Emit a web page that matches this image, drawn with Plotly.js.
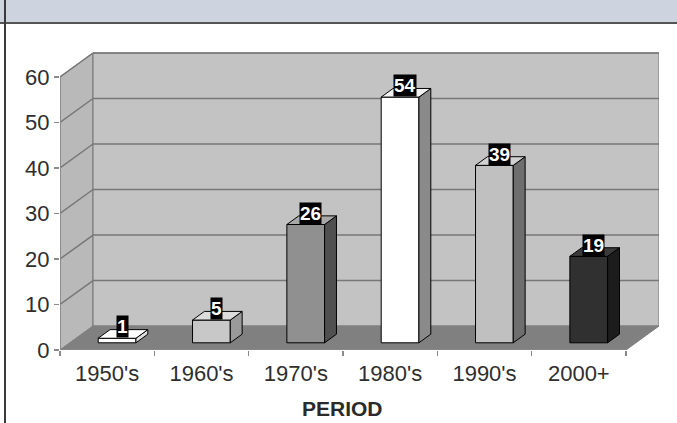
<!DOCTYPE html>
<html>
<head>
<meta charset="utf-8">
<script src="https://cdn.plot.ly/plotly-3.0.1.min.js"></script>
<style>
  html, body { margin: 0; padding: 0; background: #ffffff; overflow: hidden; }
  #wrap { position: relative; width: 677px; height: 423px; }
  #chart { position: absolute; left: 0; top: 0; width: 677px; height: 423px; }
  #band { position: absolute; left: 0; top: 0; width: 677px; height: 22px;
          background: #cdd4e0; border-bottom: 2px solid #555555; }
  #leftline { position: absolute; left: 4px; top: 0; width: 2px; height: 423px; background: #3a3a3a; }
</style>
</head>
<body>
<div id="wrap">
  <div id="chart"></div>
  <div id="band"></div>
  <div id="leftline"></div>
</div>
<script>
// ---- data ----
const periods = ["1950's", "1960's", "1970's", "1980's", "1990's", "2000+"];
const counts  = [1, 5, 26, 54, 39, 19];
const yTicks  = [0, 10, 20, 30, 40, 50, 60];
const axisTitle = "PERIOD";

// ---- styles ----
const frontColors = ["#ffffff", "#c8c8c8", "#909090", "#ffffff", "#c0c0c0", "#303030"];
const sideColors  = ["#e0e0e0", "#9a9a9a", "#505050", "#8a8a8a", "#6e6e6e", "#1c1c1c"];
const topColors   = ["#ffffff", "#dcdcdc", "#a8a8a8", "#f2f2f2", "#d0d0d0", "#3a3a3a"];
const FONT = "Liberation Sans, Arial, sans-serif";

// 3D oblique geometry (in axis units)
const X0 = -0.5, X1 = periods.length - 0.5;   // front category span
const DX = 0.35, DY = 5.27;                   // full depth offset
const YMAX = yTicks[yTicks.length - 1];
const D0 = 0.30, D1 = 0.66;                   // bar depth (fraction)
const BW = 0.40;                              // bar width
const GRID = "#777777";

const xs = periods.map((p, i) => i);
const shapes = [];
// side wall
shapes.push({type: 'path', layer: 'below', xref: 'x', yref: 'y',
  path: `M ${X0},0 L ${X0},${YMAX} L ${X0+DX},${YMAX+DY} L ${X0+DX},${DY} Z`,
  fillcolor: '#b9b9b9', line: {color: GRID, width: 1}});
// back wall
shapes.push({type: 'path', layer: 'below', xref: 'x', yref: 'y',
  path: `M ${X0+DX},${DY} L ${X1+DX},${DY} L ${X1+DX},${YMAX+DY} L ${X0+DX},${YMAX+DY} Z`,
  fillcolor: '#c3c3c3', line: {color: GRID, width: 1}});
// floor
shapes.push({type: 'path', layer: 'below', xref: 'x', yref: 'y',
  path: `M ${X0},0 L ${X1},0 L ${X1+DX},${DY} L ${X0+DX},${DY} Z`,
  fillcolor: '#808080', line: {color: '#808080', width: 1}});
// gridlines
yTicks.forEach(v => {
  if (v === 0) return;
  shapes.push({type: 'line', layer: 'below', xref: 'x', yref: 'y',
    x0: X0, y0: v, x1: X0 + DX, y1: v + DY, line: {color: GRID, width: 1.5}});
  shapes.push({type: 'line', layer: 'below', xref: 'x', yref: 'y',
    x0: X0 + DX, y0: v + DY, x1: X1 + DX, y1: v + DY, line: {color: GRID, width: 1.5}});
});
// front axis lines
shapes.push({type: 'line', layer: 'below', xref: 'x', yref: 'y',
  x0: X0, y0: 0, x1: X0, y1: YMAX, line: {color: '#8a8a8a', width: 1.5}});
shapes.push({type: 'line', layer: 'below', xref: 'x', yref: 'y',
  x0: X0, y0: 0, x1: X1, y1: 0, line: {color: '#8a8a8a', width: 1.5}});

const base = D0 * DY;
const cx = xs.map(i => i + D0 * DX);
const traces = [];
// front faces as bars
traces.push({
  type: 'bar', x: cx, y: counts, base: base, width: BW,
  marker: {color: frontColors, line: {color: '#000000', width: 1}},
  hoverinfo: 'skip', showlegend: false
});
// side and top faces
const sdx = (D1 - D0) * DX, sdy = (D1 - D0) * DY;
counts.forEach((v, i) => {
  const xl = cx[i] - BW / 2, xr = cx[i] + BW / 2;
  const yb = base, yt = base + v;
  traces.push({type: 'scatter', mode: 'lines', fill: 'toself',
    x: [xr, xr + sdx, xr + sdx, xr, xr], y: [yb, yb + sdy, yt + sdy, yt, yb],
    fillcolor: sideColors[i], line: {color: '#000000', width: 1},
    hoverinfo: 'skip', showlegend: false});
  traces.push({type: 'scatter', mode: 'lines', fill: 'toself',
    x: [xl, xr, xr + sdx, xl + sdx, xl], y: [yt, yt, yt + sdy, yt + sdy, yt],
    fillcolor: topColors[i], line: {color: '#000000', width: 1},
    hoverinfo: 'skip', showlegend: false});
});

const annotations = counts.map((v, i) => ({
  x: i + 0.45 * DX, y: v + 0.48 * DY, xref: 'x', yref: 'y',
  text: '<b>' + v + '</b>', showarrow: false, yshift: 7,
  bgcolor: '#000000', borderpad: 0,
  font: {family: FONT, size: 19, color: '#ffffff'}
}));
annotations.push({
  x: (X0 + X1) / 2, y: 0, xref: 'x', yref: 'y', yanchor: 'top', yshift: -45,
  text: '<b>' + axisTitle + '</b>', showarrow: false,
  font: {family: FONT, size: 21, color: '#2a2a2a'}
});

const layout = {
  width: 677, height: 423,
  margin: {l: 60, r: 18, t: 48, b: 73, pad: 0},
  paper_bgcolor: '#ffffff', plot_bgcolor: '#ffffff',
  showlegend: false,
  font: {family: FONT, size: 22, color: '#2e2e2e'},
  xaxis: {
    range: [X0, X1 + DX], tickmode: 'array', tickvals: xs, ticktext: periods,
    showgrid: false, zeroline: false, showline: false, ticks: '',
    ticklabelstandoff: 8,
    minor: {tickmode: 'linear', tick0: 0.5, dtick: 1, ticks: 'outside', ticklen: 5,
            tickcolor: '#8a8a8a', tickwidth: 1.5, showgrid: false},
    fixedrange: true
  },
  yaxis: {
    range: [0, YMAX + DY + 1.1], tickmode: 'array', tickvals: yTicks,
    showgrid: false, zeroline: false, showline: false,
    ticks: 'outside', ticklen: 5, tickcolor: '#8a8a8a', tickwidth: 1.5,
    fixedrange: true
  },
  shapes: shapes,
  annotations: annotations
};

Plotly.newPlot('chart', traces, layout, {displayModeBar: false, staticPlot: true});
</script>
</body>
</html>
